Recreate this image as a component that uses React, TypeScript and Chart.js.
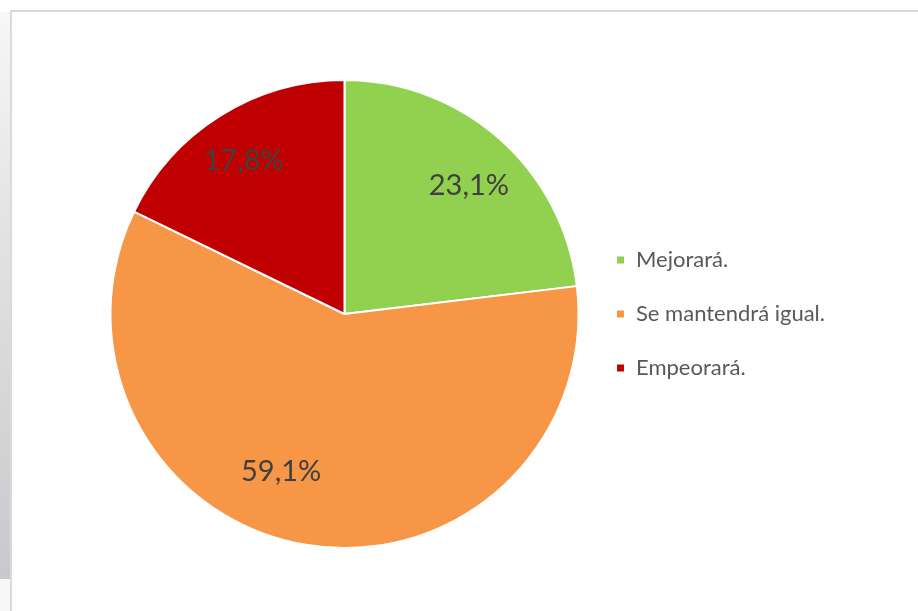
import React, { useEffect, useRef } from "react";
import { Chart, registerables } from "chart.js";

Chart.register(...registerables);

const categories = ["Mejorará.", "Se mantendrá igual.", "Empeorará."];
const values = [23.1, 59.1, 17.8];
const valueLabels = ["23,1%", "59,1%", "17,8%"];
const sliceColors = ["#92D050", "#F79646", "#C00000"];

// label placement (Excel best-fit), relative to slice middle
const labelAngleShiftDeg = [2.6, 12.4, -1.2];
const labelRadiusFactor = [0.763, 0.724, 0.786];

const labelPlugin = {
  id: "sliceLabels",
  afterDatasetsDraw(chart: any) {
    const ctx = chart.ctx;
    const meta = chart.getDatasetMeta(0);
    ctx.save();
    ctx.font = "29px Lato";
    ctx.fillStyle = "#404040";
    ctx.textAlign = "center";
    ctx.textBaseline = "middle";
    meta.data.forEach((arc: any, i: number) => {
      const p = arc.getProps(["x", "y", "startAngle", "endAngle", "outerRadius"], true);
      const a = (p.startAngle + p.endAngle) / 2 + (labelAngleShiftDeg[i] * Math.PI) / 180;
      const d = p.outerRadius * labelRadiusFactor[i];
      ctx.fillText(valueLabels[i], p.x + d * Math.cos(a), p.y + d * Math.sin(a));
    });
    ctx.restore();
  },
};

export default function App() {
  const ref = useRef<HTMLCanvasElement | null>(null);
  useEffect(() => {
    if (!ref.current) return;
    const chart = new Chart(ref.current, {
      type: "pie",
      data: {
        labels: categories,
        datasets: [
          {
            data: values,
            backgroundColor: sliceColors,
            borderColor: "#FFFFFF",
            borderWidth: 2,
            radius: 234,
          },
        ],
      },
      options: {
        responsive: false,
        animation: false,
        layout: { padding: { left: 105, right: 83, top: 30, bottom: 13 } },
        plugins: {
          tooltip: { enabled: false },
          legend: {
            position: "right",
            labels: {
              boxWidth: 9,
              boxHeight: 9,
              padding: 32,
              color: "#595959",
              font: { family: "Lato", size: 22 },
            },
          },
        },
      },
      plugins: [labelPlugin],
    });
    return () => chart.destroy();
  }, []);

  return (
    <div
      style={{
        position: "fixed",
        left: 0,
        top: 0,
        width: 918,
        height: 611,
        background: "#FFFFFF",
        overflow: "hidden",
      }}
    >
      <div
        style={{
          position: "absolute",
          left: 0,
          top: 12,
          width: 10,
          height: 567,
          background: "linear-gradient(#F7F7F8, #E2E2E4 40%, #C9C8CC)",
        }}
      />
      <div
        style={{
          position: "absolute",
          left: 0,
          top: 579,
          width: 10,
          height: 32,
          background: "#F7F7F7",
        }}
      />
      <div
        style={{
          position: "absolute",
          left: 10,
          top: 10,
          width: 908,
          height: 601,
          borderLeft: "2px solid #DADADA",
          borderTop: "2px solid #DADADA",
          boxSizing: "border-box",
        }}
      />
      <canvas
        ref={ref}
        width={918}
        height={611}
        style={{ position: "absolute", left: 0, top: 0 }}
      />
    </div>
  );
}
